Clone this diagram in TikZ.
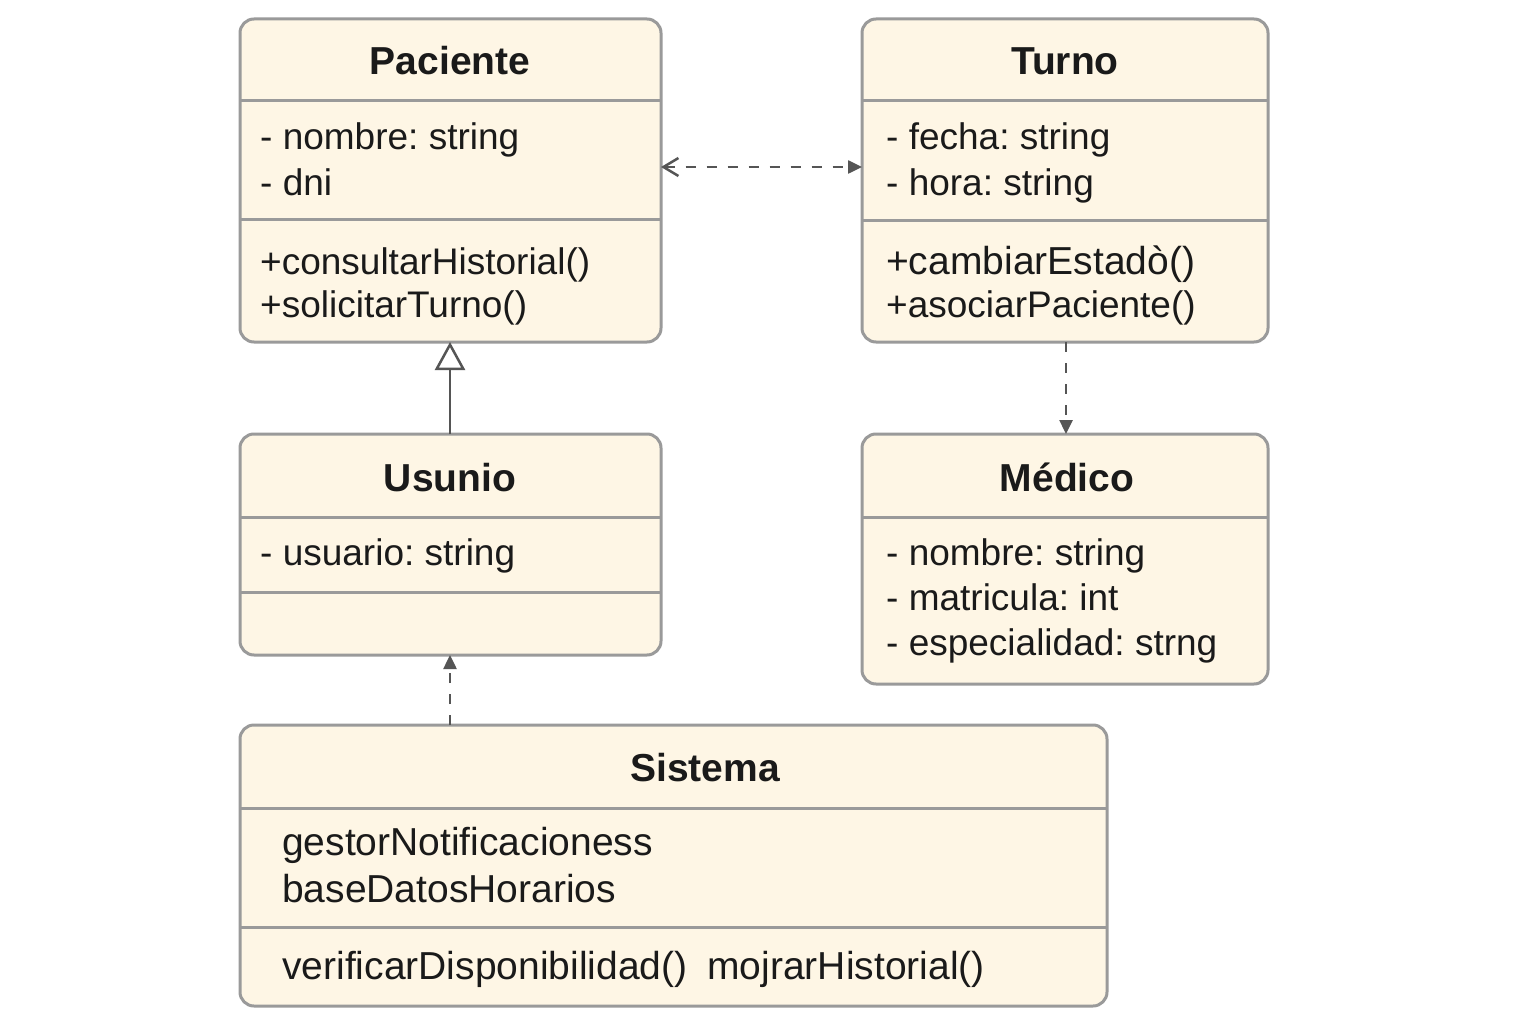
\documentclass[tikz,border=0pt]{standalone}
\usepackage{fontspec}
\setmainfont{Liberation Sans}
\usetikzlibrary{arrows.meta}
\definecolor{boxfill}{HTML}{FEF6E5}
\definecolor{boxline}{HTML}{9A9A9A}
\definecolor{arrowc}{HTML}{555555}
\definecolor{txt}{HTML}{1A1A1A}
\frenchspacing
\tikzset{
  umlbox/.style={draw=boxline, line width=3pt, fill=boxfill, rounded corners=14pt, rectangle, anchor=north west, inner sep=0pt, outer sep=0pt},
  divider/.style={draw=boxline, line width=3pt},
  titletext/.style={font=\fontsize{39}{46}\selectfont\bfseries, text=txt, anchor=base, inner sep=0pt},
  bodytext/.style={font=\fontsize{37}{46}\selectfont, text=txt, anchor=base west, inner sep=0pt},
  bigbodytext/.style={bodytext, font=\fontsize{39}{46}\selectfont},
  conn/.style={draw=arrowc, line width=2.5pt},
  dashconn/.style={conn, dash pattern=on 10pt off 11pt},
  filledtip/.style={-{Triangle[length=14pt,width=13pt]}},
}
\begin{document}
\begin{tikzpicture}[x=1pt,y=-1pt]
\fill[white] (0,0) rectangle (1536,1024);
\useasboundingbox (0,0) rectangle (1536,1024);

% Paciente
\node[umlbox, minimum width=421pt, minimum height=323pt] (pac) at (240,19) {};
\draw[divider] (240,101) -- (661,101);
\draw[divider] (240,220) -- (661,220);
\node[titletext] (pact) at (450,75) {Paciente};
\node[bodytext] (paca1) at (260,150) {- nombre: string};
\node[bodytext] (paca2) at (260,196) {- dni};
\node[bodytext] (pacm1) at (260,275) {+consultarHistorial()};
\node[bodytext] (pacm2) at (260,317) {+solicitarTurno()};

% Turno
\node[umlbox, minimum width=406pt, minimum height=323pt] (tur) at (862,19) {};
\draw[divider] (862,101) -- (1268,101);
\draw[divider] (862,221) -- (1268,221);
\node[titletext] (turt) at (1065,75) {Turno};
\node[bodytext] (tura1) at (886,150) {- fecha: string};
\node[bodytext] (tura2) at (886,196) {- hora: string};
\node[bigbodytext] (turm1) at (886,275) {+cambiarEstadò()};
\node[bodytext] (turm2) at (886,317) {+asociarPaciente()};

% Usunio
\node[umlbox, minimum width=421pt, minimum height=221pt] (usu) at (240,434) {};
\draw[divider] (240,517) -- (661,517);
\draw[divider] (240,592) -- (661,592);
\node[titletext] (usut) at (450,491) {Usunio};
\node[bodytext] (usua1) at (260,565) {- usuario: string};

% Medico
\node[umlbox, minimum width=406pt, minimum height=250pt] (med) at (862,434) {};
\draw[divider] (862,517) -- (1268,517);
\node[titletext] (medt) at (1067,491) {Médico};
\node[bodytext] (meda1) at (886,565) {- nombre: string};
\node[bodytext] (meda2) at (886,610) {- matricula: int};
\node[bodytext] (meda3) at (886,655) {- especialidad: strng};

% Sistema
\node[umlbox, minimum width=867pt, minimum height=281pt] (sis) at (240,725) {};
\draw[divider] (240,808) -- (1107,808);
\draw[divider] (240,927) -- (1107,927);
\node[titletext] (sist) at (705,781) {Sistema};
\node[bigbodytext] (sisa1) at (282,855) {gestorNotificacioness};
\node[bigbodytext] (sisa2) at (282,902) {baseDatosHorarios};
\node[bigbodytext] (sism1) at (282,979) {verificarDisponibilidad()\hspace{20pt}mojrarHistorial()};

% Connectors
\coordinate (pacR) at (pac.east |- 0,167);
\coordinate (turL) at (tur.west |- 0,167);
\draw[dashconn, {Straight Barb[length=15pt,width=18pt,line width=2.5pt]}-{Triangle[length=14pt,width=13pt]}] (pacR) -- (turL);

\coordinate (turB) at (1066,342);
\coordinate (medT) at (1066,434);
\draw[dashconn, filledtip] (turB) -- (medT);

\coordinate (usuT) at (450,434);
\coordinate (pacB) at (450,342);
\draw[conn, -{Triangle[open, length=28pt, width=30pt, fill=white]}] (usuT) -- (pacB);

\coordinate (sisT) at (450,725);
\coordinate (usuB) at (450,655);
\draw[dashconn, filledtip] (sisT) -- (usuB);
\end{tikzpicture}
\end{document}
